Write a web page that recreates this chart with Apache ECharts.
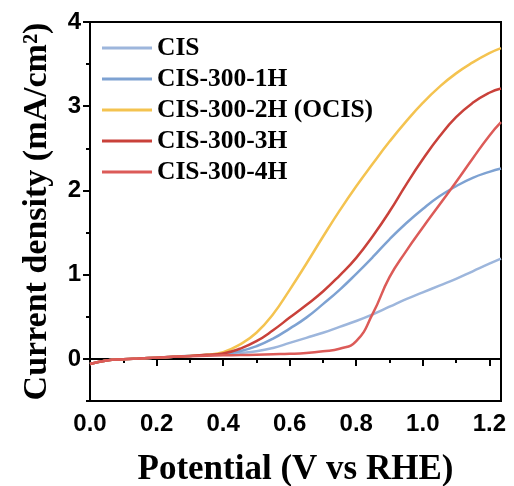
<!DOCTYPE html>
<html>
<head>
<meta charset="utf-8">
<script src="https://cdn.jsdelivr.net/npm/echarts@6/dist/echarts.min.js"></script>
<style>
    html, body { margin: 0; padding: 0; background: #fff; }
    #chart { width: 514px; height: 486px; }
</style>
</head>
<body>
<div id="chart"></div>
<script>
/* ===========================
   Data
=========================== */

const potential = [0, 0.05, 0.1, 0.15, 0.2, 0.25, 0.3, 0.35, 0.4, 0.45, 0.5, 0.55, 0.6, 0.65,
    0.7, 0.75, 0.8, 0.85, 0.9, 0.95, 1.0, 1.05, 1.1, 1.15, 1.2, 1.235];

const cis = [-0.06, -0.02, -0.005, 0.005, 0.015, 0.025, 0.035, 0.045, 0.055, 0.07, 0.09, 0.13,
    0.19, 0.25, 0.31, 0.38, 0.45, 0.53, 0.62, 0.71, 0.79, 0.87, 0.95, 1.04, 1.13, 1.19];

const cis1h = [-0.06, -0.02, -0.005, 0.005, 0.015, 0.025, 0.035, 0.045, 0.06, 0.09, 0.15, 0.24,
    0.36, 0.49, 0.65, 0.82, 1.01, 1.21, 1.42, 1.61, 1.78, 1.93, 2.05, 2.15, 2.22, 2.26];

const cis2h = [-0.06, -0.02, -0.005, 0.005, 0.015, 0.025, 0.035, 0.05, 0.08, 0.17, 0.31, 0.53,
    0.82, 1.13, 1.45, 1.76, 2.05, 2.32, 2.58, 2.82, 3.04, 3.23, 3.39, 3.52, 3.63, 3.69];

const cis3h = [-0.06, -0.02, -0.005, 0.005, 0.015, 0.025, 0.035, 0.048, 0.065, 0.12, 0.21, 0.34,
    0.49, 0.64, 0.8, 0.99, 1.2, 1.46, 1.75, 2.07, 2.37, 2.64, 2.87, 3.04, 3.16, 3.21];

const cis4h = [-0.06, -0.02, -0.005, 0.005, 0.015, 0.025, 0.032, 0.038, 0.042, 0.045, 0.05, 0.055,
    0.06, 0.07, 0.09, 0.12, 0.21, 0.54, 0.97, 1.28, 1.56, 1.83, 2.1, 2.38, 2.65, 2.81];

const names = ["CIS", "CIS-300-1H", "CIS-300-2H (OCIS)", "CIS-300-3H", "CIS-300-4H"];
const colors = ["#9db6dc", "#7ea2d2", "#f4c350", "#c9413a", "#dc5b58"];

const xMajorTicks = [0, 0.2, 0.4, 0.6, 0.8, 1.0, 1.2];
const xMinorTicks = [0.1, 0.3, 0.5, 0.7, 0.9, 1.1];
const yMajorTicks = [0, 1, 2, 3, 4];
const yMinorTicks = [-0.5, 0.5, 1.5, 2.5, 3.5];

const SERIF = "'Times New Roman', 'Liberation Serif', serif";
const SANS = "Arial, 'Liberation Sans', sans-serif";

/* ===========================
   Chart
=========================== */

function pairs(ys) {
    return potential.map((x, i) => [x, ys[i]]);
}

const chart = echarts.init(document.getElementById("chart"));

const lines = [cis, cis1h, cis2h, cis3h, cis4h];

chart.setOption({

    animation: false,

    grid: {
        left: 90,
        right: 13,
        top: 22,
        bottom: 85,
        outerBoundsMode: "none",
        show: true,
        borderColor: "#000",
        borderWidth: 2
    },

    legend: {
        orient: "vertical",
        left: 102,
        top: 35,
        padding: 0,
        itemWidth: 50,
        itemHeight: 26,
        itemGap: 5,
        icon: "path://M0,0H50V3H0Z",
        data: names,
        textStyle: {
            fontFamily: SERIF,
            fontWeight: "bold",
            fontSize: 25.5,
            color: "#000"
        }
    },

    xAxis: [{
        type: "value",
        min: 0,
        max: 1.235,
        name: "Potential (V vs RHE)",
        nameLocation: "middle",
        nameGap: 51,
        nameTextStyle: {
            fontFamily: SERIF,
            fontWeight: "bold",
            fontSize: 35,
            color: "#000"
        },
        axisLine: { lineStyle: { color: "#000", width: 2 } },
        axisTick: {
            customValues: xMajorTicks,
            length: 7,
            lineStyle: { color: "#000", width: 2 }
        },
        axisLabel: {
            customValues: xMajorTicks,
            margin: 11,
            formatter: v => v.toFixed(1),
            fontFamily: SANS,
            fontWeight: "bold",
            fontSize: 24,
            color: "#000"
        },
        splitLine: { show: false }
    }, {
        type: "value",
        min: 0,
        max: 1.235,
        position: "bottom",
        axisLine: { show: false },
        axisTick: {
            customValues: xMinorTicks,
            length: 4,
            lineStyle: { color: "#000", width: 2 }
        },
        axisLabel: { show: false },
        splitLine: { show: false }
    }],

    yAxis: [{
        type: "value",
        min: -0.5,
        max: 4,
        name: "Current density (mA/cm²)",
        nameLocation: "middle",
        nameGap: 36,
        nameTextStyle: {
            fontFamily: SERIF,
            fontWeight: "bold",
            fontSize: 34,
            color: "#000"
        },
        axisLine: { lineStyle: { color: "#000", width: 2 } },
        axisTick: {
            customValues: yMajorTicks,
            length: 7,
            lineStyle: { color: "#000", width: 2 }
        },
        axisLabel: {
            customValues: yMajorTicks,
            margin: 9,
            fontFamily: SANS,
            fontWeight: "bold",
            fontSize: 24,
            color: "#000"
        },
        splitLine: { show: false }
    }, {
        type: "value",
        min: -0.5,
        max: 4,
        position: "left",
        axisLine: { show: false },
        axisTick: {
            customValues: yMinorTicks,
            length: 4,
            lineStyle: { color: "#000", width: 2 }
        },
        axisLabel: { show: false },
        splitLine: { show: false }
    }],

    series: lines.map((ys, i) => ({
        name: names[i],
        type: "line",
        smooth: 0.5,
        symbol: "none",
        color: colors[i],
        lineStyle: { width: 2.5, color: colors[i] },
        data: pairs(ys)
    }))

});
</script>
</body>
</html>
